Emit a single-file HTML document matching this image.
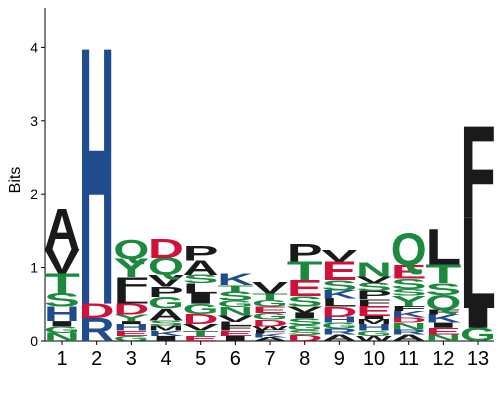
<!DOCTYPE html>
<html><head><meta charset="utf-8"><style>
html,body{margin:0;padding:0;background:#fff;}
svg{display:block;font-family:"Liberation Sans",sans-serif;}
</style></head><body>
<svg id="chart" width="500" height="400" viewBox="0 0 500 400">
<g id="axes"></g>
<g id="marks"></g>
<text x="20" y="180" font-size="16" text-anchor="middle" transform="rotate(-90 20 180)">Bits</text>
</svg>
<script>
const positions = ["1","2","3","4","5","6","7","8","9","10","11","12","13"];
// letters listed bottom -> top for each position
const stackLetters = [
 ["N","G","I","H","S","T","V","A"],
 ["R","D","H"],
 ["G","E","H","I","Y","D","L","F","Y","Q"],
 ["I","K","M","S","A","G","P","V","Q","D"],
 ["E","T","V","D","G","I","L","S","A","P"],
 ["I","E","F","L","V","N","G","S","T","K"],
 ["A","K","F","W","D","G","E","G","T","V"],
 ["D","S","G","S","I","V","S","E","T","P"],
 ["A","R","G","H","D","L","K","S","E","V"],
 ["W","G","H","M","I","E","F","P","S","V","N"],
 ["A","R","N","D","K","F","Y","S","S","E","Q"],
 ["N","E","I","K","F","Q","S","T","L"],
 ["G","I","L","F"]
];
const stackBits = [
 [0.11,0.09,0.07,0.2,0.18,0.27,0.33,0.55],
 [0.31,0.2,3.46],
 [0.07,0.07,0.09,0.04,0.09,0.15,0.16,0.2,0.25,0.26],
 [0.07,0.07,0.07,0.07,0.16,0.16,0.14,0.16,0.23,0.26],
 [0.07,0.07,0.09,0.14,0.14,0.14,0.14,0.11,0.2,0.2],
 [0.07,0.07,0.07,0.05,0.09,0.11,0.09,0.12,0.09,0.16],
 [0.05,0.05,0.05,0.05,0.09,0.09,0.09,0.09,0.09,0.16],
 [0.08,0.07,0.07,0.09,0.08,0.08,0.14,0.22,0.25,0.23],
 [0.09,0.08,0.08,0.08,0.14,0.11,0.11,0.14,0.25,0.16],
 [0.07,0.07,0.09,0.07,0.04,0.14,0.09,0.11,0.11,0.09,0.19],
 [0.09,0.07,0.09,0.07,0.09,0.07,0.14,0.09,0.14,0.18,0.43],
 [0.09,0.09,0.07,0.11,0.07,0.2,0.16,0.25,0.48],
 [0.18,0.27,1.23,1.24]
];
const yTicks = [0,1,2,3,4];

const NS="http://www.w3.org/2000/svg";
const X0=45, Y0=341, PX_PER_BIT=73.4, COL0=62, COLSTEP=34.67, COLW=33;
function yScale(b){return Y0 - b*PX_PER_BIT;}
function xScale(i){return COL0 + i*COLSTEP;}
function colorOf(l){
 if("STQYNGC".includes(l)) return "#1b8a3e";
 if("HKR".includes(l)) return "#1f4c8c";
 if("DE".includes(l)) return "#d2113a";
 return "#1a1a1a";
}
const axes=document.getElementById('axes');
const marks=document.getElementById('marks');
function mk(tag,attrs,parent){const e=document.createElementNS(NS,tag);for(const k in attrs)e.setAttribute(k,attrs[k]);parent.appendChild(e);return e;}

const yl=mk('line',{x1:X0,y1:8,x2:X0,y2:Y0,stroke:"#000","stroke-width":1},axes);


const xl=mk('line',{x1:X0,y1:Y0,x2:494,y2:Y0,stroke:"#000","stroke-width":1},axes);


yTicks.forEach(t=>{
 const y=yScale(t);
 const tk=mk('line',{x1:X0-4,y1:y,x2:X0,y2:y,stroke:"#000"},axes);
 
 
 const tx=mk('text',{x:X0-7,y:y+5,"font-size":14,"text-anchor":"end"},axes);
 tx.textContent=t;
 
 
});
positions.forEach((p,i)=>{
 const x=xScale(i);
 const tk=mk('line',{x1:x,y1:Y0,x2:x,y2:Y0+4,stroke:"#000"},axes);
 
 
 const tx=mk('text',{x:x,y:Y0+24,"font-size":20,"text-anchor":"middle"},axes);
 tx.textContent=p;
 
 
});
stackLetters.forEach((letters,i)=>{
 let cum=0;
 const xl=xScale(i)-COLW/2-1.5;
 letters.forEach((l,j)=>{
  const b=stackBits[i][j];
  const yb=yScale(cum);
  const h=b*PX_PER_BIT;
  cum+=b;
  const t=mk('text',{x:0,y:0,"font-size":100,"font-weight":"bold",fill:colorOf(l),
   textLength:74,lengthAdjust:"spacingAndGlyphs",
   transform:`translate(${xl},${yb}) scale(${COLW/68},${h/68.8})`},marks);
  t.textContent=l;
  
  
 });
});
</script>
</body></html>
